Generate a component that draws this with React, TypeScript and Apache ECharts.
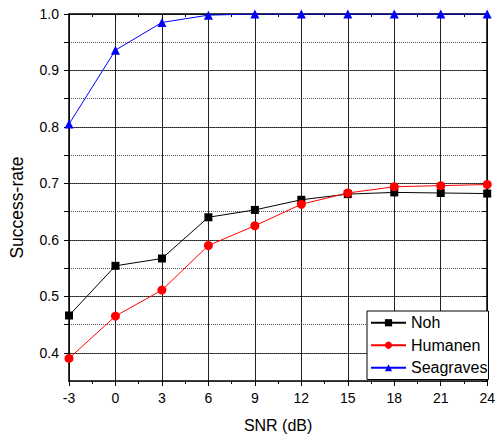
import React, { useEffect, useRef } from "react";
import * as echarts from "echarts";

const snr = [-3, 0, 3, 6, 9, 12, 15, 18, 21, 24];
const noh = [0.466, 0.554, 0.567, 0.64, 0.653, 0.671, 0.681, 0.684, 0.683, 0.682];
const humanen = [0.39, 0.465, 0.511, 0.59, 0.625, 0.663, 0.683, 0.694, 0.696, 0.698];
const seagraves = [0.805, 0.936, 0.985, 0.998, 1.0, 1.0, 1.0, 1.0, 1.0, 1.0];

const SANS = '"Liberation Sans", Arial, sans-serif';

const pairs = (ys: number[]) => snr.map((x, i) => [x, ys[i]]);

export default function App() {
  const ref = useRef<HTMLDivElement>(null);

  useEffect(() => {
    if (!ref.current) return;
    const chart = echarts.init(ref.current, undefined, { renderer: "svg" });

    const isTenth = (v: number) => Math.abs(v * 10 - Math.round(v * 10)) < 1e-6;

    chart.setOption({
      animation: false,
      backgroundColor: "#fff",
      grid: { left: 60, top: 14, right: 9, bottom: 59 },
      legend: {
        orient: "vertical",
        left: 367,
        top: 311,
        padding: [2, 1, 2, 3],
        itemGap: 3,
        itemWidth: 35,
        itemHeight: 9,
        borderColor: "#000",
        borderWidth: 1,
        backgroundColor: "#fff",
        textStyle: { fontFamily: SANS, fontSize: 16, color: "#000", lineHeight: 19.5 },
        data: ["Noh", "Humanen", "Seagraves"],
      },
      xAxis: [
        {
          type: "value",
          min: -3,
          max: 24,
          interval: 3,
          position: "bottom",
          name: "SNR (dB)",
          nameLocation: "middle",
          nameGap: 36,
          nameTextStyle: { fontFamily: SANS, fontSize: 16, color: "#000" },
          axisLine: { show: true, onZero: false, lineStyle: { color: "#000", width: 1.5 } },
          axisTick: { show: true, inside: false, length: 5, lineStyle: { color: "#000" } },
          minorTick: { show: true, splitNumber: 2, length: 3, lineStyle: { color: "#000" } },
          axisLabel: { margin: 10, fontFamily: SANS, fontSize: 14, color: "#000" },
          splitLine: { show: true, lineStyle: { color: "#222", width: 1, type: "solid" } },
        },
        {
          type: "value",
          min: -3,
          max: 24,
          interval: 3,
          position: "top",
          axisLine: { show: true, onZero: false, lineStyle: { color: "#000", width: 1.5 } },
          axisTick: { show: true, inside: true, length: 5, lineStyle: { color: "#000" } },
          minorTick: { show: true, splitNumber: 2, length: 3, lineStyle: { color: "#000" } },
          axisLabel: { show: false },
          splitLine: { show: false },
        },
      ],
      yAxis: [
        {
          type: "value",
          min: 0.35,
          max: 1.0,
          interval: 0.05,
          position: "left",
          name: "Success-rate",
          nameLocation: "middle",
          nameGap: 43,
          nameTextStyle: { fontFamily: SANS, fontSize: 17.5, color: "#000", padding: [0, 20, 0, 0] },
          axisLine: { show: true, onZero: false, lineStyle: { color: "#000", width: 1.5 } },
          axisTick: { show: true, inside: false, length: 5, lineStyle: { color: "#000" } },
          axisLabel: {
            margin: 10,
            fontFamily: SANS,
            fontSize: 14,
            color: "#000",
            showMinLabel: false,
            formatter: (v: number) => (isTenth(v) ? v.toFixed(1) : ""),
          },
          splitLine: {
            show: true,
            showMinLine: true,
            lineStyle: { color: ["rgba(0,0,0,0)", "#222"], width: 1, type: "solid" },
          },
        },
        {
          type: "value",
          min: 0.35,
          max: 1.0,
          interval: 0.05,
          position: "right",
          axisLine: { show: true, onZero: false, lineStyle: { color: "#000", width: 1.5 } },
          axisTick: { show: true, inside: true, length: 5, lineStyle: { color: "#000" } },
          axisLabel: { show: false },
          splitLine: { show: true, lineStyle: { color: "#555", width: 1, type: [1, 1] } },
        },
      ],
      series: [
        {
          name: "Noh",
          type: "line",
          data: pairs(noh),
          symbol: "rect",
          symbolSize: 8,
          itemStyle: { color: "#000" },
          lineStyle: { color: "#000", width: 1 },
          z: 3,
        },
        {
          name: "Humanen",
          type: "line",
          data: pairs(humanen),
          symbol: "circle",
          symbolSize: 9,
          itemStyle: { color: "#ff0000" },
          lineStyle: { color: "#ff0000", width: 1 },
          z: 4,
        },
        {
          name: "Seagraves",
          type: "line",
          data: pairs(seagraves),
          symbol: "triangle",
          symbolSize: 9,
          itemStyle: { color: "#0000ff" },
          lineStyle: { color: "#0000ff", width: 1 },
          z: 5,
        },
      ],
    });

    return () => chart.dispose();
  }, []);

  return <div ref={ref} style={{ width: 498, height: 440, position: "absolute", left: 0, top: 0 }} />;
}
